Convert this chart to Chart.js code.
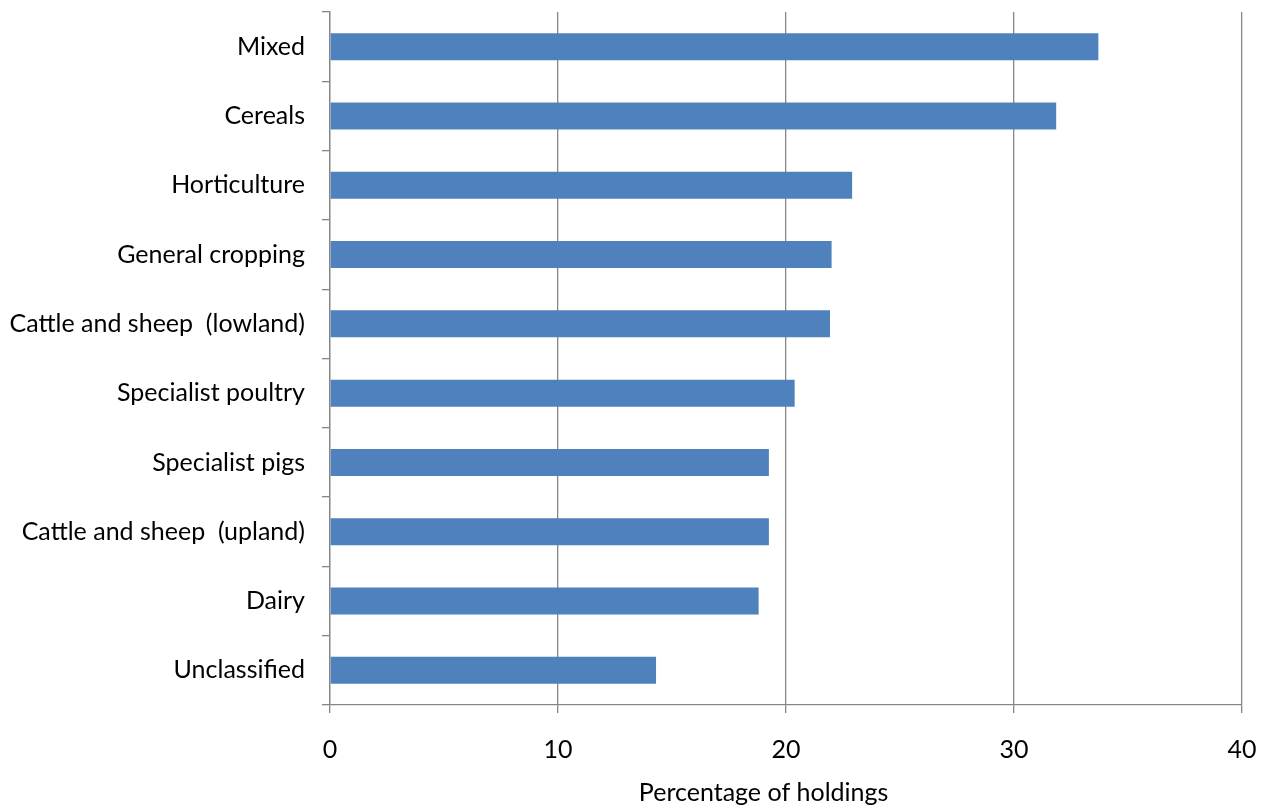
<!DOCTYPE html>
<html>
<head>
<meta charset="utf-8">
<script src="https://cdn.jsdelivr.net/npm/chart.js@4"></script>
<style>
html,body{margin:0;padding:0;background:#fff;}
#wrap{width:1272px;height:808px;}
</style>
</head>
<body>
<div id="wrap"><canvas id="c" width="1272" height="808"></canvas></div>
<script>
const categories = ["Mixed","Cereals","Horticulture","General cropping","Cattle and sheep  (lowland)","Specialist poultry","Specialist pigs","Cattle and sheep  (upland)","Dairy","Unclassified"];
const values = [33.7,31.85,22.9,22.0,21.93,20.38,19.25,19.25,18.8,14.3];
const xTicks = [0,10,20,30,40];
const axisTitle = "Percentage of holdings";

const FONT = "Lato";
const FS = 25;
new Chart(document.getElementById('c'), {
  type: 'bar',
  data: {
    labels: categories,
    datasets: [{
      data: values,
      backgroundColor: '#4F81BD',
      borderColor: '#4F81BD',
      borderWidth: 0,
      categoryPercentage: 1,
      barPercentage: 0.39
    }]
  },
  options: {
    indexAxis: 'y',
    responsive: false,
    animation: false,
    devicePixelRatio: 1,
    layout: {padding: {left: 0, right: 30, top: 12, bottom: 0}},
    plugins: {legend: {display: false}, tooltip: {enabled: false}},
    scales: {
      x: {
        min: 0, max: 40,
        afterBuildTicks: s => { s.ticks = xTicks.map(v => ({value: v})); },
        afterFit: s => { s.paddingRight = 0; s.paddingLeft = 0; },
        grid: {color: '#868686', lineWidth: 1.3, tickLength: 8, drawTicks: true},
        border: {color: '#868686', width: 1.3},
        ticks: {color: '#000', font: {family: FONT, size: FS}, padding: 22, maxRotation: 0},
        title: {display: true, text: axisTitle + '\u00A0\u00A0\u00A0\u00A0\u00A0\u00A0\u00A0', color: '#000', font: {family: FONT, size: FS}, padding: {top: -9, bottom: 0}}
      },
      y: {
        afterFit: s => { s.width = 330; s.paddingTop = 0; s.paddingBottom = 0; },
        grid: {drawOnChartArea: false, color: '#868686', lineWidth: 1.3, tickLength: 8, offset: true},
        border: {color: '#868686', width: 1.3},
        ticks: {color: '#000', font: {family: FONT, size: FS}, padding: 17}
      }
    }
  }
});
</script>
</body>
</html>
